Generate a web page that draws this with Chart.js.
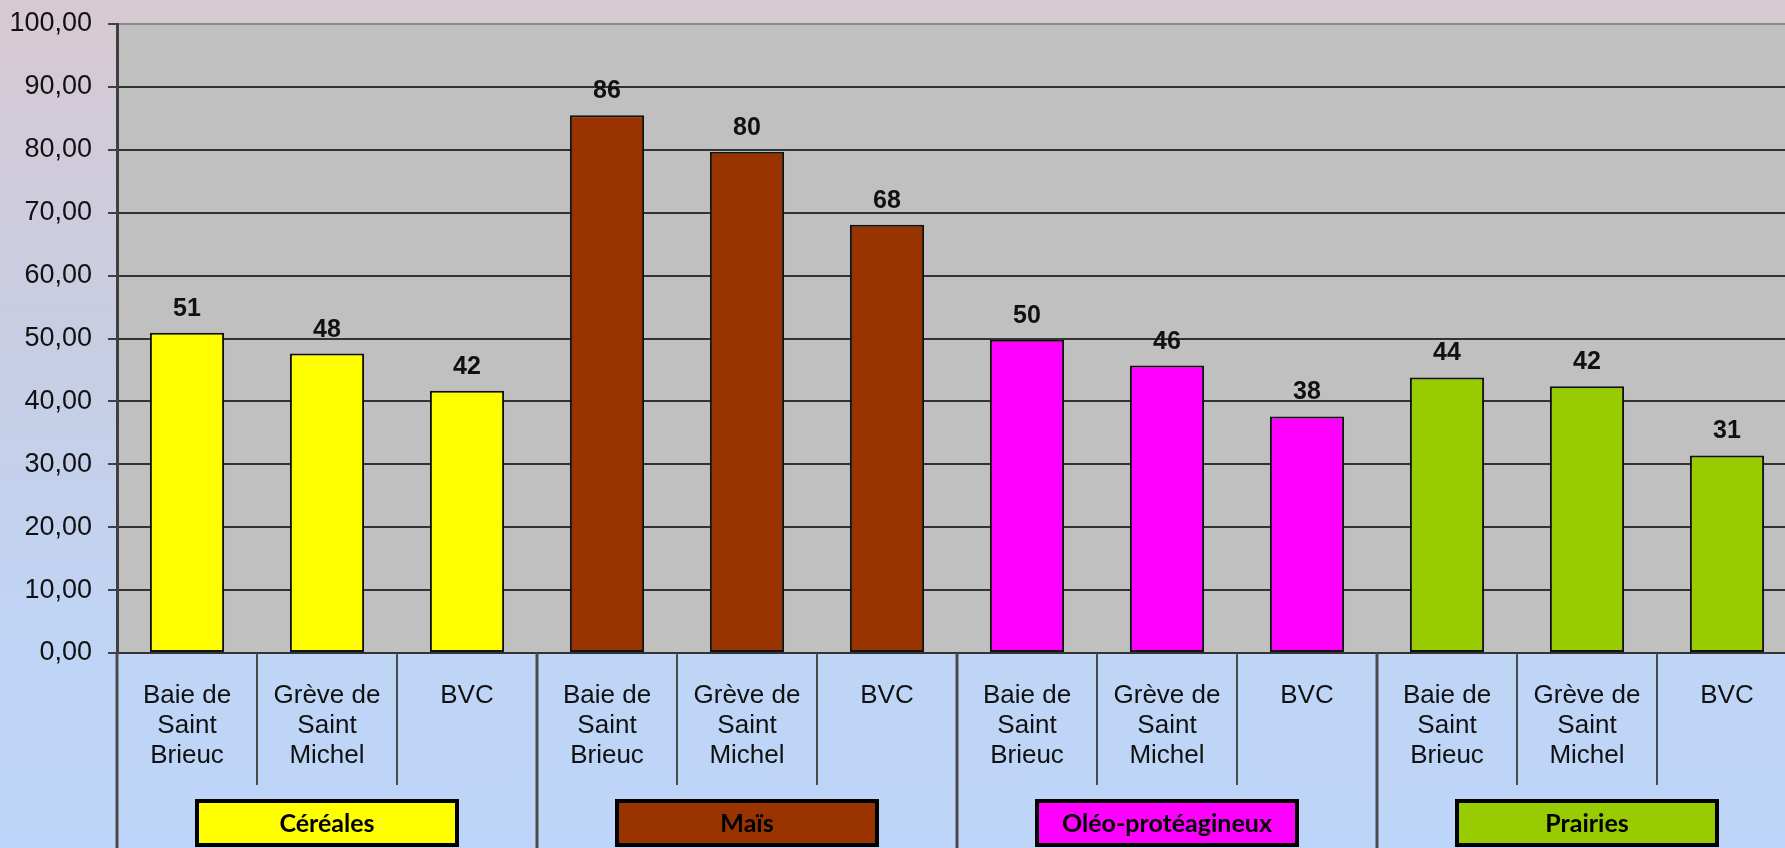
<!DOCTYPE html>
<html>
<head>
<meta charset="utf-8">
<script src="https://cdn.jsdelivr.net/npm/chart.js@4/dist/chart.umd.min.js"></script>
<style>
  html, body { margin:0; padding:0; overflow:hidden; }
  body {
    width:1785px; height:848px;
    background: linear-gradient(to bottom, #d7c9d1 0%, #c8cde3 40%, #bfd5f6 78%, #bdd5f8 100%);
  }
  #wrap { width:1800px; height:848px; }
</style>
</head>
<body>
<div id="wrap"><canvas id="chart" width="1800" height="848"></canvas></div>
<script>
// data
const groups = ["Céréales", "Maïs", "Oléo-protéagineux", "Prairies"];
const sites = [["Baie de","Saint","Brieuc"], ["Grève de","Saint","Michel"], ["BVC"]];
const cereales = [50.9, 47.6, 41.7];
const mais = [85.5, 79.7, 68.1];
const oleo = [49.8, 45.7, 37.6];
const prairies = [43.8, 42.4, 31.4];
const groupColors = ["#ffff00", "#993300", "#ff00ff", "#99cc00"];

const values = [...cereales, ...mais, ...oleo, ...prairies];
const labels = [];
const colors = [];
groups.forEach(function(g, gi){
  sites.forEach(function(s){
    labels.push(s);
    colors.push(groupColors[gi]);
  });
});

const extras = {
  id: "extras",
  beforeDraw(chart){
    const a = chart.chartArea, ctx = chart.ctx;
    ctx.save();
    ctx.fillStyle = "#c0c0c0";
    ctx.fillRect(a.left, a.top, a.right - a.left, a.bottom - a.top);
    ctx.restore();
  },
  afterDatasetsDraw(chart){
    const ctx = chart.ctx;
    const meta = chart.getDatasetMeta(0);
    ctx.save();
    ctx.font = "bold 25px Arial, 'Liberation Sans'";
    ctx.fillStyle = "#111";
    ctx.textAlign = "center";
    ctx.textBaseline = "alphabetic";
    meta.data.forEach(function(bar, i){
      ctx.fillText(Math.round(values[i]), bar.x, bar.y - 17);
    });
    ctx.restore();
  },
  afterDraw(chart){
    const ctx = chart.ctx, x = chart.scales.x, a = chart.chartArea;
    const n = labels.length;
    const w = (a.right - a.left) / n;
    ctx.save();
    // separators
    ctx.strokeStyle = "#4a4a4a";
    for(let i = 0; i <= n; i++){
      const sx = Math.round(a.left + i * w);
      const isGroup = i % sites.length === 0;
      ctx.beginPath();
      ctx.moveTo(sx, a.bottom);
      ctx.lineTo(sx, isGroup ? chart.height : a.bottom + 132);
      ctx.lineWidth = isGroup ? 3 : 2;
      ctx.stroke();
    }
    // category labels
    ctx.font = "26px Arial, 'Liberation Sans'";
    ctx.fillStyle = "#111";
    ctx.textAlign = "center";
    ctx.textBaseline = "alphabetic";
    labels.forEach(function(lines, i){
      const cx = x.getPixelForValue(i);
      lines.forEach(function(t, k){
        ctx.fillText(t, cx, a.bottom + 50 + k * 30);
      });
    });
    // group boxes
    groups.forEach(function(g, gi){
      const cx = (x.getPixelForValue(gi * 3) + x.getPixelForValue(gi * 3 + 2)) / 2;
      const bw = 260, bh = 44, by = a.bottom + 148;
      ctx.fillStyle = groupColors[gi];
      ctx.fillRect(cx - bw / 2, by, bw, bh);
      ctx.strokeStyle = "#000";
      ctx.lineWidth = 4;
      ctx.strokeRect(cx - bw / 2, by, bw, bh);
      ctx.fillStyle = "#000";
      ctx.font = "bold 25px Lato, 'Open Sans', sans-serif";
      ctx.fillText(g, cx, by + 31);
    });
    ctx.restore();
  }
};

new Chart(document.getElementById("chart"), {
  type: "bar",
  data: {
    labels: labels.map(function(l){ return l.join(" "); }),
    datasets: [{
      data: values,
      backgroundColor: colors,
      borderColor: "#111",
      borderWidth: 2,
      borderSkipped: false,
      barPercentage: 0.53,
      categoryPercentage: 1
    }]
  },
  options: {
    responsive: false,
    animation: false,
    devicePixelRatio: 1,
    layout: { padding: { top: 24, right: 3, bottom: 195, left: 0 } },
    plugins: { legend: { display: false }, tooltip: { enabled: false } },
    scales: {
      x: { display: false },
      y: {
        min: 0, max: 100,
        afterFit: function(s){ s.width = 117; s.paddingTop = 15; s.paddingBottom = 15; },
        ticks: {
          stepSize: 10,
          padding: 16,
          color: "#111",
          font: { family: "Arial, 'Liberation Sans'", size: 27 },
          callback: function(v){ return v.toFixed(2).replace(".", ","); }
        },
        grid: {
          color: function(c){ return c.tick && c.tick.value === 100 ? "#8a8a8a" : "#333"; },
          lineWidth: 2,
          tickLength: 9,
          tickColor: "#404040",
          tickWidth: 2
        },
        border: { color: "#404040", width: 3 }
      }
    }
  },
  plugins: [extras]
});
</script>
</body>
</html>
